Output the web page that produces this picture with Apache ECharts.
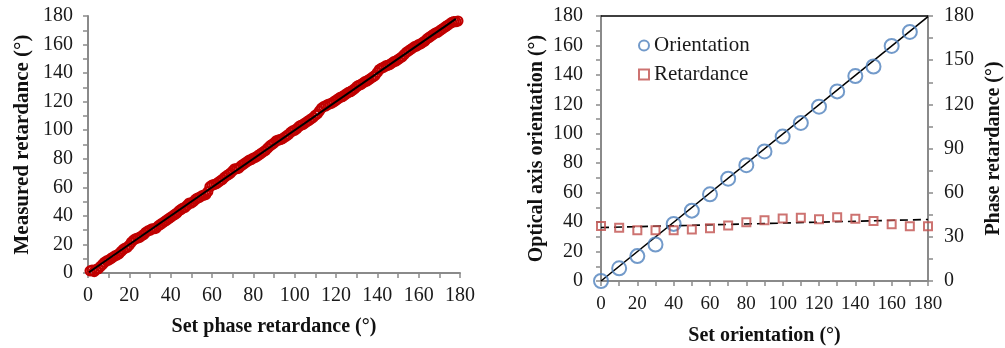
<!DOCTYPE html>
<html>
<head>
<meta charset="utf-8">
<script src="https://cdn.jsdelivr.net/npm/echarts@6/dist/echarts.min.js"></script>
<style>html,body{margin:0;padding:0;background:#fff}#c{width:1005px;height:348px}</style>
</head>
<body>
<div id="c"></div>
<script>
// ---- Left chart data: set phase retardance vs measured retardance ----
var setRet = [1,2,3,4,5,6,7,8,9,10,11,12,13,14,15,16,17,18,19,20,21,22,23,24,25,26,27,28,29,30,31,32,33,34,35,36,37,38,39,40,41,42,43,44,45,46,47,48,49,50,51,52,53,54,55,56,57,58,59,60,61,62,63,64,65,66,67,68,69,70,71,72,73,74,75,76,77,78,79,80,81,82,83,84,85,86,87,88,89,90,91,92,93,94,95,96,97,98,99,100,101,102,103,104,105,106,107,108,109,110,111,112,113,114,115,116,117,118,119,120,121,122,123,124,125,126,127,128,129,130,131,132,133,134,135,136,137,138,139,140,141,142,143,144,145,146,147,148,149,150,151,152,153,154,155,156,157,158,159,160,161,162,163,164,165,166,167,168,169,170,171,172,173,174,175,176,177,178,179];
var measRet = [1.5,2,1,2.5,3,4.5,6,7.5,8.5,9,10,11,12,12.5,13.5,15,16.5,17.5,18,19.5,21.5,23,24,24.5,25,26,27,28.5,29.5,30,31,31,31.5,33,34,35,36,37,38,39,40,41,42,43.5,44.5,45.5,46,47.5,49,49,50,51.5,52.5,53,54,54.5,55,57,60.5,61.5,62,62.5,63.5,64.5,65.5,67,68,69,70,71.5,73,73,73.5,75,76,77,78,79,79.5,80.5,81,82,83,84,85,86,87.5,89,90,91,92.5,93,93.5,94,95,96,97,98.5,99.5,100,101,102.5,103.5,104,105,106,107,108,109,110.5,111.5,113.5,115.5,116.5,117,118,118.5,119,120,121,122,123,123.5,124.5,125.5,126.5,127,128,129,130.5,131.5,132,133,134,134.5,135.5,136.5,137.5,138.5,140.5,142.5,143.5,144,145,145.5,146,147,148,148.5,149.5,150.5,151.5,153,154.5,155.5,156.5,157.5,158.5,159,160,160.5,161.5,162.5,164,165,166,167,168,168.5,169.5,170.5,171.5,172.5,173.5,174.5,175.5,176,176,176.5];
var leftFitX = [0.5, 178];
var leftFitY = [0.5, 178];

// ---- Right chart data ----
var setOrient = [0,10,20,30,40,50,60,70,80,90,100,110,120,130,140,150,160,170];
var orientation = [0,8.6,16.9,24.8,38.8,47.8,58.9,69.5,78.7,88,98.1,107.4,118.4,128.8,139.2,145.7,159.7,169.2];
var setOrientRet = [0,10,20,30,40,50,60,70,80,90,100,110,120,130,140,150,160,170,180];
var retardance = [37.4,36.1,34.5,34.5,34.5,35,35.9,37.7,39.9,41.3,42.4,42.9,42,43.3,42.2,40.8,38.6,37.2,37.2];
var orientFitX = [0, 180];
var orientFitY = [0, 179.5];
var retFitX = [0, 180];
var retFitY = [36.3, 41.8];

function pairs(xs, ys){ return xs.map(function(x,i){ return [x, ys[i]]; }); }

var FONT = 'Liberation Serif';
var axisGray = '#8a8a8a';
function lab(size, margin){ return {fontFamily: FONT, fontSize: size, color: '#1a1a1a', margin: margin}; }
var nameStyle = {fontFamily: FONT, fontSize: 20, fontWeight: 'bold', color: '#111'};

function valAxis(o){
  var base = {
    type: 'value', min: 0, max: 180, interval: 20,
    axisLine: {show: true, onZero: false, lineStyle: {color: axisGray, width: 2}},
    axisTick: {show: true, inside: false, length: 5, lineStyle: {color: axisGray, width: 1.5}},
    minorTick: {show: true, splitNumber: 2, length: 5, lineStyle: {color: axisGray, width: 1.5}},
    splitLine: {show: false},
    axisLabel: lab(20, 14),
    nameLocation: 'middle',
    nameTextStyle: nameStyle
  };
  return Object.assign(base, o);
}

var chart = echarts.init(document.getElementById('c'), null, {renderer: 'canvas'});
var option = {
  animation: false,
  backgroundColor: '#fff',
  grid: [
    {left: 88, right: 545, top: 16, bottom: 75, containLabel: false, outerBoundsMode: 'none'},
    {left: 601, right: 77, top: 16, bottom: 67, containLabel: false, outerBoundsMode: 'none'}
  ],
  legend: {
    data: ['Orientation', 'Retardance'],
    orient: 'vertical',
    left: 633, top: 30,
    itemWidth: 10, itemHeight: 10, itemGap: 8,
    textStyle: {fontFamily: FONT, fontSize: 21, color: '#1a1a1a'}
  },
  xAxis: [
    valAxis({gridIndex: 0, name: 'Set phase retardance (°)', nameGap: 44, axisLabel: lab(20, 13)}),
    valAxis({gridIndex: 1, name: 'Set orientation (°)', nameGap: 45, axisLabel: lab(19, 14)}),
    {type: 'value', gridIndex: 1, position: 'top', min: 0, max: 180,
      axisLine: {show: true, onZero: false, lineStyle: {color: '#000', width: 1.5}},
      axisTick: {show: false}, axisLabel: {show: false}, splitLine: {show: false}}
  ],
  yAxis: [
    valAxis({gridIndex: 0, name: 'Measured retardance (°)', nameGap: 55, axisLabel: lab(20, 15),
      nameTextStyle: {fontFamily: FONT, fontSize: 21, fontWeight: 'bold', color: '#111'}}),
    valAxis({gridIndex: 1, name: 'Optical axis orientation (°)', nameGap: 54, axisLabel: lab(20, 18)}),
    valAxis({gridIndex: 1, position: 'right', interval: 30, name: 'Phase retardance (°)', nameGap: 56, nameRotate: 90, axisLabel: lab(20, 16)})
  ],
  series: [
    {type: 'scatter', name: 'Measured', xAxisIndex: 0, yAxisIndex: 0,
      data: pairs(setRet, measRet), symbol: 'circle', symbolSize: 9,
      itemStyle: {color: 'rgba(255,255,255,0)', borderColor: '#c00000', borderWidth: 2.2, opacity: 1}},
    {type: 'line', name: 'LeftFit', xAxisIndex: 0, yAxisIndex: 0,
      data: pairs(leftFitX, leftFitY), showSymbol: false, symbol: 'none',
      lineStyle: {color: '#000', width: 2}, z: 5},
    {type: 'line', name: 'OrientFit', xAxisIndex: 1, yAxisIndex: 1,
      data: pairs(orientFitX, orientFitY), showSymbol: false, symbol: 'none',
      lineStyle: {color: '#000', width: 1.6}, z: 3},
    {type: 'line', name: 'RetFit', xAxisIndex: 1, yAxisIndex: 2,
      data: pairs(retFitX, retFitY), showSymbol: false, symbol: 'none',
      lineStyle: {color: '#000', width: 1.6, type: [8, 5]}, z: 3},
    {type: 'scatter', name: 'Orientation', xAxisIndex: 1, yAxisIndex: 1,
      data: pairs(setOrient, orientation), symbol: 'circle', symbolSize: 14,
      itemStyle: {color: 'rgba(255,255,255,0)', borderColor: '#4f81bd', borderWidth: 2}, z: 4},
    {type: 'scatter', name: 'Retardance', xAxisIndex: 1, yAxisIndex: 2,
      data: pairs(setOrientRet, retardance), symbol: 'rect', symbolSize: 8,
      itemStyle: {color: 'rgba(255,255,255,0)', borderColor: '#c0504d', borderWidth: 2}, z: 4}
  ]
};
chart.setOption(option);
</script>
</body>
</html>
